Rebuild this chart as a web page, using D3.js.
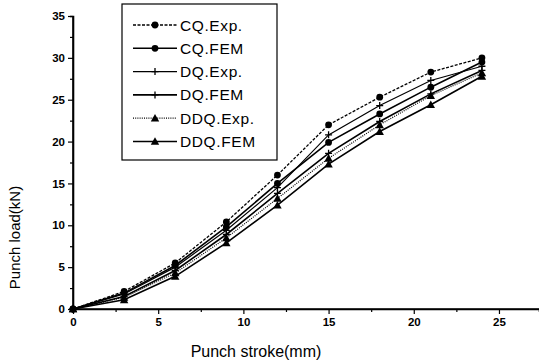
<!DOCTYPE html>
<html>
<head>
<meta charset="utf-8">
<script src="https://cdn.jsdelivr.net/npm/d3@7"></script>
<style>
  html, body { margin: 0; padding: 0; background: #fff; }
  svg { display: block; font-family: Arial, "Liberation Sans", Helvetica, sans-serif; }
</style>
</head>
<body>
<svg id="chart" width="539" height="362"></svg>
<script>
// Punch stroke (mm) at which load was recorded
const stroke = [0, 3, 6, 9, 12, 15, 18, 21, 24];

// Punch load (kN) for each blank type, experiment and FEM
const cqExp  = [0, 2.1, 5.5, 10.4, 16.0, 22.0, 25.3, 28.3, 30.0];
const cqFem  = [0, 1.9, 5.2, 9.8, 15.0, 19.9, 23.3, 26.5, 29.5];
const dqExp  = [0, 1.8, 5.0, 9.4, 14.5, 20.8, 24.3, 27.3, 29.0];
const dqFem  = [0, 1.5, 4.6, 8.9, 13.8, 18.6, 22.4, 25.7, 28.5];
const ddqExp = [0, 1.4, 4.3, 8.5, 13.2, 18.0, 22.0, 25.5, 28.2];
const ddqFem = [0, 1.1, 3.9, 7.9, 12.4, 17.3, 21.2, 24.4, 27.8];

const seriesNames = ["CQ.Exp.", "CQ.FEM", "DQ.Exp.", "DQ.FEM", "DDQ.Exp.", "DDQ.FEM"];
const seriesValues = [cqExp, cqFem, dqExp, dqFem, ddqExp, ddqFem];

const xTicks = [0, 5, 10, 15, 20, 25];
const yTicks = [0, 5, 10, 15, 20, 25, 30, 35];

// Drawing styles per series
const markerKind = ["circle", "circle", "plus", "plus", "triangle", "triangle"];
const dashKind = ["3,1.5", null, null, null, "1,1.2", null];
const lineWidth = [1.3, 1.6, 1.2, 1.6, 1.2, 1.6];

const svg = d3.select("#chart");
const plotLeft = 73, plotBottom = 309, plotTop = 16, plotRight = 539;

const x = d3.scaleLinear().domain([0, 27.35]).range([plotLeft, plotRight]);
const y = d3.scaleLinear().domain([0, 35]).range([plotBottom, plotTop]);

// Axes
const xAxis = d3.axisBottom(x).tickValues(xTicks).tickSize(5).tickPadding(4)
  .tickFormat(d3.format("d"));
const xMinor = d3.axisBottom(x).tickValues(d3.range(2.5, 27.5, 5)).tickSize(3).tickFormat("");
const yAxis = d3.axisLeft(y).tickValues(yTicks).tickSize(5).tickPadding(3);
const yMinor = d3.axisLeft(y).tickValues(d3.range(2.5, 35, 5)).tickSize(3).tickFormat("");

const gx = svg.append("g").attr("transform", `translate(0,${plotBottom})`).call(xAxis);
svg.append("g").attr("transform", `translate(0,${plotBottom})`).call(xMinor);
const gy = svg.append("g").attr("transform", `translate(${plotLeft},0)`).call(yAxis);
svg.append("g").attr("transform", `translate(${plotLeft},0)`).call(yMinor);

svg.selectAll(".domain").attr("stroke", "#000").attr("stroke-width", 1.6);
svg.selectAll(".tick line").attr("stroke", "#000").attr("stroke-width", 1.2);
svg.selectAll(".tick text").attr("fill", "#000").style("font-size", "11.5px")
  .style("font-weight", "bold").style("font-family", "Arial, 'Liberation Sans', sans-serif");
gx.select(".domain").attr("d", `M${plotLeft},0H${plotRight}`);
gy.select(".domain").attr("d", `M0,${plotTop}V${plotBottom}`);

// Axis titles
svg.append("text")
  .attr("x", (plotLeft + plotRight) / 2 - 50).attr("y", 357)
  .attr("text-anchor", "middle")
  .style("font-size", "16px")
  .text("Punch stroke(mm)");

svg.append("text")
  .attr("transform", `translate(20,${(plotTop + plotBottom) / 2 + 75}) rotate(-90)`)
  .attr("text-anchor", "middle")
  .style("font-size", "15px")
  .text("Punch load(kN)");

// Marker drawing
function drawMarker(g, kind, cx, cy) {
  if (kind === "circle") {
    g.append("circle").attr("cx", cx).attr("cy", cy).attr("r", 3.4).attr("fill", "#000");
  } else if (kind === "plus") {
    g.append("path").attr("d", `M${cx - 3.5},${cy}H${cx + 3.5}M${cx},${cy - 3.5}V${cy + 3.5}`)
      .attr("stroke", "#000").attr("stroke-width", 1.3);
  } else {
    const s = 4.2;
    g.append("path").attr("d", `M${cx},${cy - s}L${cx + s},${cy + s * 0.8}L${cx - s},${cy + s * 0.8}Z`)
      .attr("fill", "#000");
  }
}

const line = d3.line().x((d, i) => x(stroke[i])).y(d => y(d));

seriesValues.forEach((vals, k) => {
  const g = svg.append("g");
  g.append("path").datum(vals).attr("d", line)
    .attr("fill", "none").attr("stroke", "#000")
    .attr("stroke-width", lineWidth[k])
    .attr("stroke-dasharray", dashKind[k]);
  vals.forEach((v, i) => drawMarker(g, markerKind[k], x(stroke[i]), y(v)));
});

// Legend
const lg = svg.append("g");
lg.append("rect").attr("x", 122).attr("y", 4).attr("width", 155).attr("height", 156)
  .attr("fill", "#fff").attr("stroke", "#000").attr("stroke-width", 1.2);
seriesNames.forEach((name, k) => {
  const yy = 25 + k * 23.3;
  lg.append("line").attr("x1", 133).attr("x2", 177).attr("y1", yy).attr("y2", yy)
    .attr("stroke", "#000").attr("stroke-width", lineWidth[k])
    .attr("stroke-dasharray", dashKind[k]);
  drawMarker(lg, markerKind[k], 155, yy);
  lg.append("text").attr("x", 180).attr("y", yy + 5.5)
    .style("font-size", "15.5px").style("letter-spacing", "0.6px")
    .text(name);
});
</script>
</body>
</html>
